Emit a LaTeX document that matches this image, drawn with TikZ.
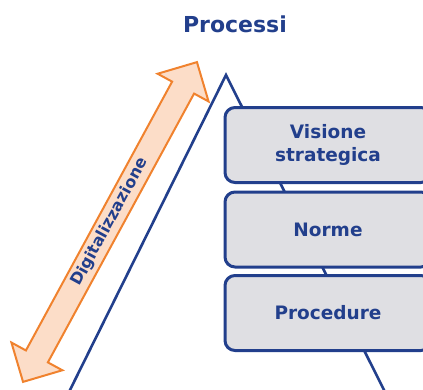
\documentclass[tikz,border=0pt]{standalone}
\usepackage{fontspec}
\setmainfont{DejaVu Sans}
\definecolor{dblue}{HTML}{223F8C}
\definecolor{boxgray}{HTML}{DFDFE3}
\definecolor{orline}{HTML}{F0822E}
\definecolor{orfill}{HTML}{FCDDC8}
\tikzset{
  layer/.style={draw=dblue, line width=3pt, fill=boxgray, rounded corners=10pt,
    minimum width=206pt, minimum height=75pt, inner sep=0pt,
    font=\fontsize{18.5}{22.5}\selectfont\bfseries, text=dblue, align=center},
  tri/.style={draw=dblue, line width=2.6pt},
  darrow/.style={draw=orline, fill=orfill, line width=2pt, line join=miter},
}
\begin{document}
\begin{tikzpicture}[x=1pt,y=1pt]
\useasboundingbox (0,0) rectangle (423,-389);
\clip (0,0) rectangle (423,-389);
% title
\node[font=\fontsize{22}{26}\selectfont\bfseries, text=dblue] (title) at (235,-24) {Processi};
% triangle
\coordinate (tl) at (69,-392);
\coordinate (ta) at (226,-75);
\coordinate (tr) at (385,-392);
\draw[tri] (tl) -- (ta) -- (tr);
% layers
\node[layer] (vis) at (328,-145) {Visione\\strategica};
\node[layer] (nor) at (328,-229.5) {Norme};
\node[layer] (pro) at (328,-313) {Procedure};
% double arrow
\begin{scope}[shift={(110,-222)}, rotate=61.46]
\draw[darrow] (-182,0) -- (-153,29) -- (-153,12.5) -- (153,12.5) -- (153,29) -- (182,0)
  -- (153,-29) -- (153,-12.5) -- (-153,-12.5) -- (-153,-29) -- cycle;
\node[font=\fontsize{16}{18}\selectfont\bfseries, text=dblue, rotate=61.46] (dig) at (0,0) {Digitalizzazione};
\end{scope}
\end{tikzpicture}
\end{document}
